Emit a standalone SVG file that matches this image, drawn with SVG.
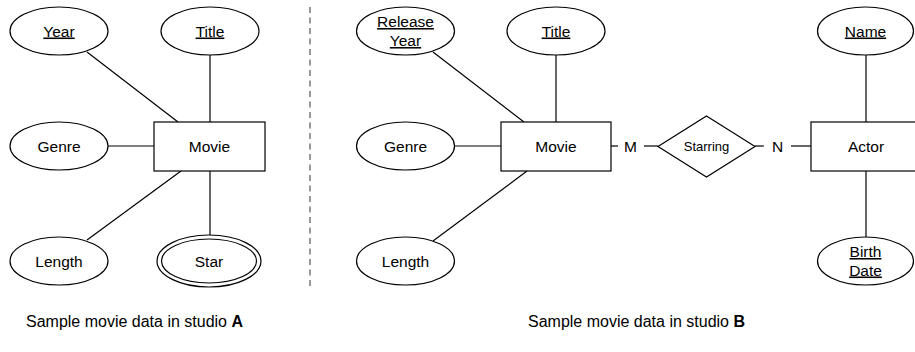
<svg xmlns="http://www.w3.org/2000/svg" width="915" height="352" viewBox="0 0 915 352">
  <style>
    .shape { fill: #ffffff; stroke: #000000; stroke-width: 1.2; }
    .edge { fill: none; stroke: #000000; stroke-width: 1.2; }
    .sep { fill: none; stroke: #333333; stroke-width: 1; stroke-dasharray: 6 4.5; }
    text { font-family: "Liberation Sans", Arial, Helvetica, sans-serif; font-size: 15.5px; fill: #000000; text-anchor: middle; }
    .key { text-decoration: underline; }
    .small { font-size: 13px; }
    .caption { text-anchor: start; font-size: 16px; }
  </style>
  <rect width="915" height="352" fill="#ffffff"/>

  <!-- connectors -->
  <g id="connectors">
    <!-- studio A -->
    <line class="edge" x1="87" y1="52" x2="178" y2="122"/>
    <line class="edge" x1="210" y1="55" x2="210" y2="122"/>
    <line class="edge" x1="108" y1="146" x2="154" y2="146"/>
    <line class="edge" x1="181" y1="171" x2="87" y2="240"/>
    <line class="edge" x1="210" y1="171" x2="210" y2="235"/>
    <!-- studio B -->
    <line class="edge" x1="433" y1="52" x2="524" y2="122"/>
    <line class="edge" x1="556" y1="55" x2="556" y2="122"/>
    <line class="edge" x1="455" y1="146" x2="501" y2="146"/>
    <line class="edge" x1="527" y1="171" x2="433" y2="241"/>
    <line class="edge" x1="611" y1="146" x2="618" y2="146"/>
    <line class="edge" x1="644" y1="146" x2="658" y2="146"/>
    <line class="edge" x1="755" y1="146" x2="764" y2="146"/>
    <line class="edge" x1="791" y1="146" x2="811" y2="146"/>
    <line class="edge" x1="866" y1="55" x2="866" y2="122"/>
    <line class="edge" x1="866" y1="171" x2="866" y2="237"/>
  </g>

  <!-- separator between the two studios -->
  <line id="separator" class="sep" x1="310" y1="7" x2="310" y2="286"/>

  <!-- studio A -->
  <g id="a-year">
    <ellipse class="shape" cx="59" cy="31" rx="49" ry="24"/>
    <text class="key" x="59" y="36.5">Year</text>
  </g>
  <g id="a-title">
    <ellipse class="shape" cx="210" cy="31" rx="49" ry="24"/>
    <text class="key" x="210" y="36.5">Title</text>
  </g>
  <g id="a-genre">
    <ellipse class="shape" cx="59" cy="146" rx="49" ry="24"/>
    <text x="59" y="151.5">Genre</text>
  </g>
  <g id="a-movie">
    <rect class="shape" x="154" y="122" width="111" height="49"/>
    <text x="209.5" y="151.5">Movie</text>
  </g>
  <g id="a-length">
    <ellipse class="shape" cx="59" cy="261" rx="49" ry="24"/>
    <text x="59" y="266.5">Length</text>
  </g>
  <g id="a-star">
    <ellipse class="shape" cx="209" cy="261" rx="52" ry="26"/>
    <ellipse class="shape" cx="209" cy="261" rx="47.5" ry="22"/>
    <text x="209" y="266.5">Star</text>
  </g>

  <!-- studio B -->
  <g id="b-release-year">
    <ellipse class="shape" cx="405.5" cy="31" rx="49" ry="24"/>
    <text class="key" x="405.5" y="27">Release</text>
    <text class="key" x="405.5" y="46">Year</text>
  </g>
  <g id="b-title">
    <ellipse class="shape" cx="556" cy="31" rx="49" ry="24"/>
    <text class="key" x="556" y="36.5">Title</text>
  </g>
  <g id="b-genre">
    <ellipse class="shape" cx="405.5" cy="146" rx="49" ry="24"/>
    <text x="405.5" y="151.5">Genre</text>
  </g>
  <g id="b-movie">
    <rect class="shape" x="501" y="122" width="110" height="49"/>
    <text x="556" y="151.5">Movie</text>
  </g>
  <g id="b-length">
    <ellipse class="shape" cx="405.5" cy="261" rx="49" ry="24"/>
    <text x="405.5" y="266.5">Length</text>
  </g>
  <g id="b-starring">
    <polygon class="shape" points="706.5,116 755,146.5 706.5,177 658,146.5"/>
    <text class="small" x="706.5" y="151">Starring</text>
  </g>
  <g id="b-card-m">
    <text x="630.5" y="151.5">M</text>
  </g>
  <g id="b-card-n">
    <text x="777.5" y="151.5">N</text>
  </g>
  <g id="b-actor">
    <rect class="shape" x="811" y="122" width="110" height="49"/>
    <text x="866" y="151.5">Actor</text>
  </g>
  <g id="b-name">
    <ellipse class="shape" cx="865.5" cy="31" rx="48" ry="24"/>
    <text class="key" x="865.5" y="36.5">Name</text>
  </g>
  <g id="b-birth-date">
    <ellipse class="shape" cx="865.5" cy="261" rx="48" ry="24"/>
    <text class="key" x="865.5" y="257">Birth</text>
    <text class="key" x="865.5" y="275.5">Date</text>
  </g>

  <!-- captions -->
  <text class="caption" x="26" y="327">Sample movie data in studio <tspan font-weight="bold">A</tspan></text>
  <text class="caption" x="528" y="327">Sample movie data in studio <tspan font-weight="bold">B</tspan></text>
</svg>
